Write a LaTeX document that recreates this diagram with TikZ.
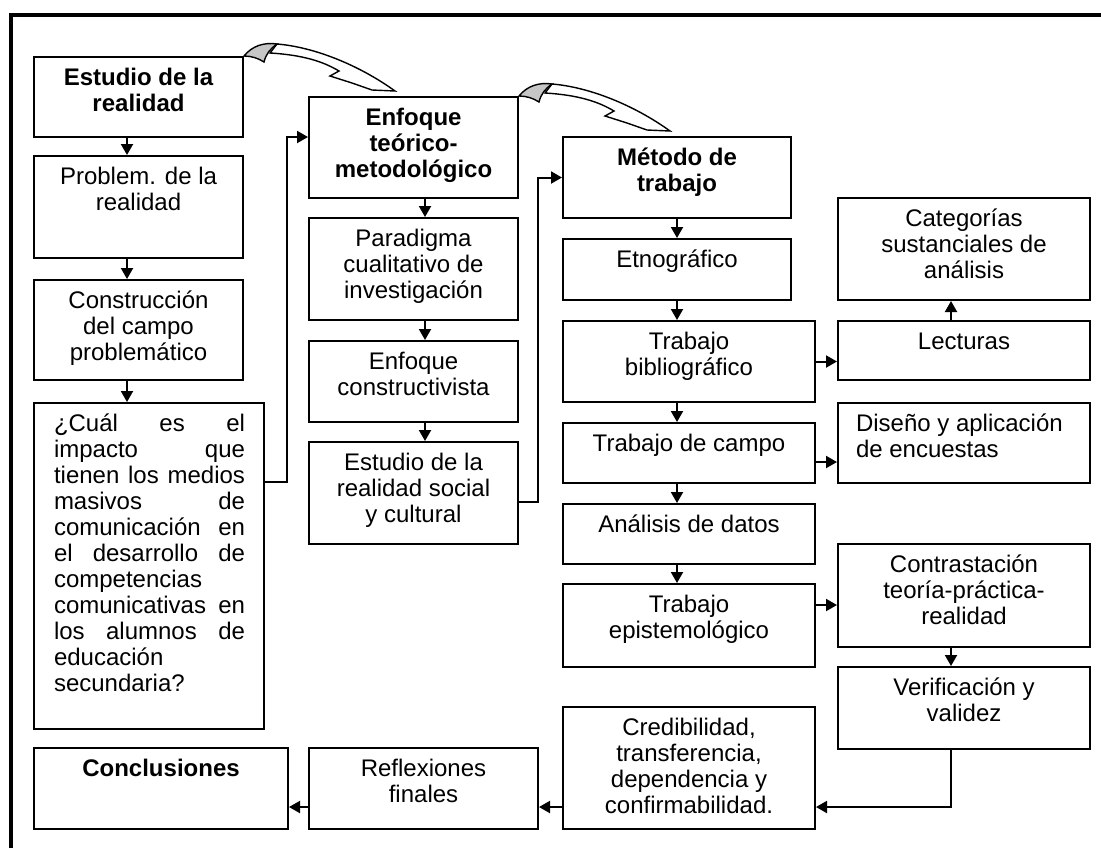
\documentclass[tikz,border=0pt]{standalone}
\usepackage{fontspec}
\setmainfont{Liberation Sans}
\usetikzlibrary{arrows.meta}

% caja: [alineacion]{nombre}{x}{y}{ancho}{alto}{texto}, medidas en px
\newcommand{\caja}[7][\centering]{%
  \node[caja] (#2) at (#3,#4)
    {\parbox[c][\dimexpr#6pt/2\relax][t]{\dimexpr#5pt/2\relax}{#1\vspace*{5pt}\strut#7}};}

% flecha curva de bloque, desde la esquina de una caja
\newcommand{\flechacurva}[1]{%
  \begin{scope}[shift={(#1)}]
    \filldraw[fill=white,line width=0.7pt] (33,-12) .. controls (70,-9) and (115,9) .. (151,35)
      -- (128,34) .. controls (118,31) .. (108,27) -- (86,20) -- (95,15)
      .. controls (80,6) and (60,-1) .. (26,-3) -- cycle;
    \filldraw[fill=gray!45,line width=0.7pt] (0,0) .. controls (8,-10) and (20,-14) .. (33,-12)
      .. controls (26,-7) and (22,-2) .. (20,6) .. controls (14,2) and (7,0) .. (0,0) -- cycle;
  \end{scope}}

\begin{document}
\begin{tikzpicture}
        [x=0.5pt,y=-0.5pt,>={Triangle[length=5.5pt,width=6pt]},
        caja/.style={draw,line width=1pt,inner sep=0pt,anchor=north west,
          font=\fontsize{12}{13}\selectfont},
        flecha/.style={->,line width=1pt}]
        \useasboundingbox (0,0) rectangle (1101,848);
        \draw[line width=2pt] (11,848) -- (11,14.5) -- (1101,14.5);

        % primera columna
        \caja[\centering\bfseries]{estudio}{33}{56}{209}{80}{Estudio de la\\realidad}
        \caja{problem}{33}{155}{209}{102}{Problem. de la\\realidad}
        \caja{construccion}{33}{279}{209}{100}{Construcción\\del campo\\problemático}
        \caja[\leftskip=10pt\rightskip=9.5pt]{pregunta}{33}{402}{230}{326}{¿Cuál es el\linebreak
          impacto que\linebreak tienen los medios\linebreak masivos de\linebreak
          comunicación en\linebreak el desarrollo de\linebreak competencias\newline
          comunicativas en\linebreak los alumnos de\linebreak educación\newline secundaria?}
        \caja[\centering\bfseries]{conclusiones}{33}{747}{254}{81}{Conclusiones}

        % segunda columna
        \caja[\centering\bfseries]{enfoque}{308}{96}{209}{101}{Enfoque\\teórico-\\metodológico}
        \caja{paradigma}{308}{217}{209}{102}{Paradigma\\cualitativo de\\investigación}
        \caja{constructivista}{308}{340}{209}{81}{Enfoque\\constructivista}
        \caja{social}{308}{441}{209}{102}{Estudio de la\\realidad social\\y cultural}
        \caja{reflexiones}{308}{747}{229}{81}{Reflexiones\\finales}

        % tercera columna
        \caja[\centering\bfseries]{metodo}{562}{136}{228}{81}{Método de\\trabajo}
        \caja{etnografico}{562}{238}{228}{61}{Etnográfico}
        \caja{biblio}{562}{320}{252}{81}{Trabajo\\bibliográfico}
        \caja{campo}{562}{422}{252}{60}{Trabajo de campo}
        \caja{analisis}{562}{503}{252}{60}{Análisis de datos}
        \caja{epist}{562}{583}{252}{83}{Trabajo\\epistemológico}
        \caja{credibilidad}{562}{706}{252}{122}{Credibilidad,\\transferencia,\\dependencia y\\confirmabilidad.}

        % cuarta columna
        \caja{categorias}{837}{197}{252}{102}{Categorías\\sustanciales de\\análisis}
        \caja{lecturas}{837}{320}{252}{59}{Lecturas}
        \caja[\raggedright\leftskip=9pt]{diseno}{837}{402}{252}{80}{Diseño y aplicación\\de encuestas}
        \caja{contrastacion}{837}{543}{252}{103}{Contrastación\\teoría-práctica-\\realidad}
        \caja{verificacion}{837}{666}{252}{82}{Verificación y\\validez}

        \coordinate (ejeA) at (127,0);
        \coordinate (ejeB) at (425,0);
        \coordinate (ejeC) at (677,0);
        \coordinate (ejeD) at (951,0);
        \coordinate (codoA) at (287,482);
        \coordinate (codoB) at (287,137);
        \coordinate (codoC) at (538,502);
        \coordinate (nivelCampo) at (0,462);
        \coordinate (nivelEpist) at (0,605);
        \coordinate (nivelBase) at (0,807);

        \draw[flecha] (estudio.south -| ejeA) -- (problem.north -| ejeA);
        \draw[flecha] (problem.south -| ejeA) -- (construccion.north -| ejeA);
        \draw[flecha] (construccion.south -| ejeA) -- (pregunta.north -| ejeA);
        \draw[flecha] (pregunta.east |- codoA) -- (codoA) -- (codoB) -- (enfoque.west |- codoB);

        \draw[flecha] (enfoque.south -| ejeB) -- (paradigma.north -| ejeB);
        \draw[flecha] (paradigma.south -| ejeB) -- (constructivista.north -| ejeB);
        \draw[flecha] (constructivista.south -| ejeB) -- (social.north -| ejeB);
        \draw[flecha] (social.east |- codoC) -- (codoC) |- (metodo.west);

        \draw[flecha] (metodo.south -| ejeC) -- (etnografico.north -| ejeC);
        \draw[flecha] (etnografico.south -| ejeC) -- (biblio.north -| ejeC);
        \draw[flecha] (biblio.south -| ejeC) -- (campo.north -| ejeC);
        \draw[flecha] (campo.south -| ejeC) -- (analisis.north -| ejeC);
        \draw[flecha] (analisis.south -| ejeC) -- (epist.north -| ejeC);

        \draw[flecha] (biblio.east) -- (lecturas.west |- biblio.east);
        \draw[flecha] (lecturas.north -| ejeD) -- (categorias.south -| ejeD);
        \draw[flecha] (campo.east |- nivelCampo) -- (diseno.west |- nivelCampo);
        \draw[flecha] (epist.east |- nivelEpist) -- (contrastacion.west |- nivelEpist);
        \draw[flecha] (contrastacion.south -| ejeD) -- (verificacion.north -| ejeD);
        \draw[flecha] (verificacion.south -| ejeD) |- (credibilidad.east |- nivelBase);
        \draw[flecha] (credibilidad.west |- nivelBase) -- (reflexiones.east |- nivelBase);
        \draw[flecha] (reflexiones.west |- nivelBase) -- (conclusiones.east |- nivelBase);

        \flechacurva{estudio.north east}
        \flechacurva{enfoque.north east}
    \end{tikzpicture}
\end{document}
